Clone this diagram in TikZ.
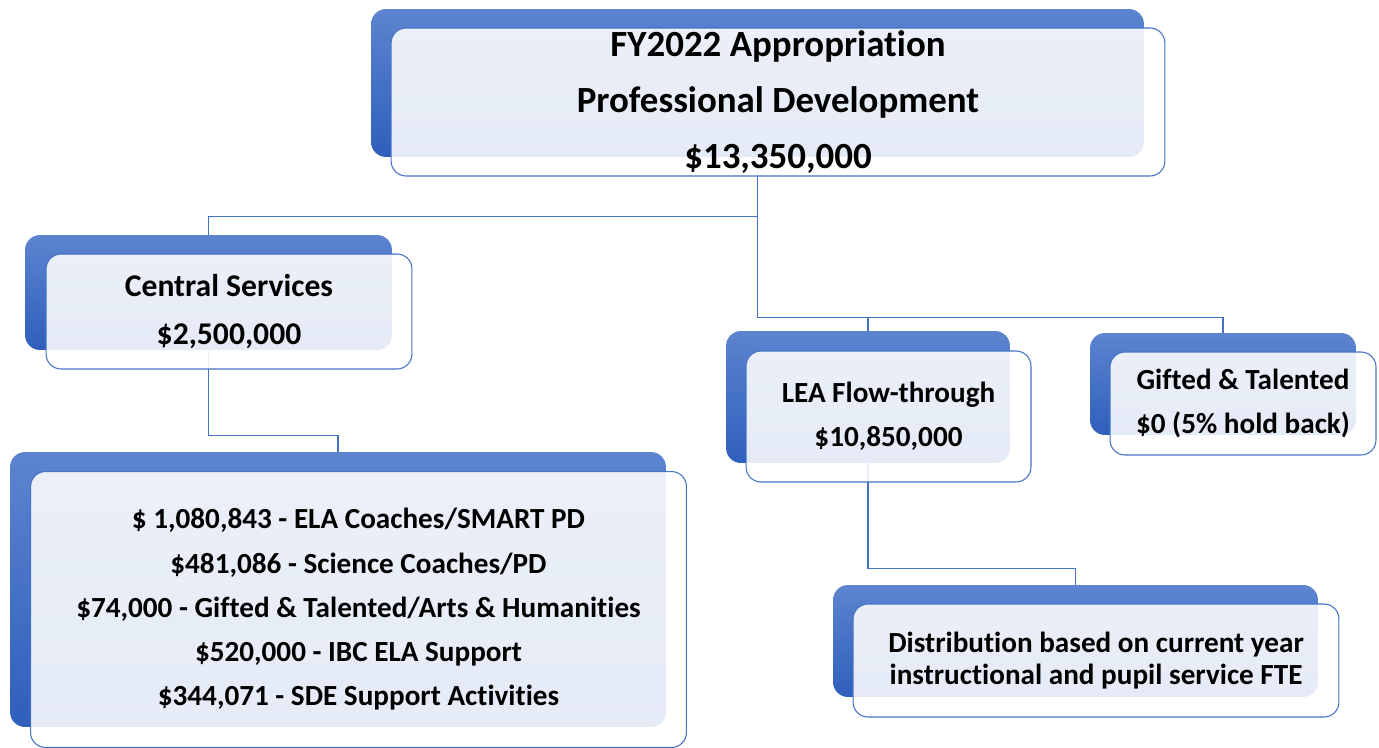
\documentclass[tikz,border=0pt]{standalone}
\usepackage{fontspec}
\setmainfont{Carlito}[Ligatures=NoCommon]
\usetikzlibrary{backgrounds}
\definecolor{bleuhaut}{HTML}{5C84CF}
\definecolor{bleubas}{HTML}{2F5FBC}
\definecolor{bleutrait}{HTML}{4472C4}
\tikzset{
  fond/.style={rectangle, rounded corners=0.3cm, top color=bleuhaut, bottom color=bleubas, draw=none, inner sep=0pt},
  devant/.style={rectangle, rounded corners=0.3cm, draw=bleutrait, line width=0.6pt, fill=white, fill opacity=0.88, text opacity=1, inner sep=0pt, align=center},
  lien/.style={draw=bleutrait, line width=0.6pt}
}
\begin{document}
\begin{tikzpicture}[x=0.02cm, y=-0.02cm]
    \useasboundingbox (0,0) rectangle (1379,747);
    %boites du fond
    \node[fond, minimum width=15.46cm, minimum height=2.96cm] (top) at (757.5,83) {};
    \node[fond, minimum width=7.34cm, minimum height=2.3cm] (central) at (208.5,292.5) {};
    \node[fond, minimum width=13.12cm, minimum height=5.5cm] (bas) at (338,589.5) {};
    \node[fond, minimum width=5.68cm, minimum height=2.64cm] (lea) at (868,397) {};
    \node[fond, minimum width=5.32cm, minimum height=2.04cm] (gifted) at (1223,384) {};
    \node[fond, minimum width=9.7cm, minimum height=2.24cm] (distrib) at (1075.5,641) {};
    %liens
    \begin{scope}[on background layer]
      \draw[lien] (top.center) -- (top.south) -- ++(0,59) -| (central.center);
      \draw[lien] (top.center) -- (top.south) -- ++(0,160) -| (lea.center);
      \draw[lien] (top.south) ++(0,160) -| (gifted.center);
      \draw[lien] (central.center) -- (central.south) -- ++(0,85) -| (bas.center);
      \draw[lien] (lea.center) -- (lea.south) -- ++(0,105) -| (distrib.center);
    \end{scope}
    %boites de devant
    \node[devant, minimum width=15.48cm, minimum height=2.96cm, font=\bfseries\fontsize{21}{32}\selectfont] (topT) at ([shift={(20.5,19)}]top.center)
      {FY2022 Appropriation\\Professional Development\\\$13,350,000};
    \node[devant, minimum width=7.32cm, minimum height=2.3cm, font=\bfseries\fontsize{18}{27}\selectfont] (centralT) at ([shift={(20.5,19)}]central.center)
      {Central Services\\\$2,500,000};
    \node[devant, minimum width=13.12cm, minimum height=5.52cm, font=\bfseries\fontsize{16.6}{25.2}\selectfont] (basT) at ([shift={(20.5,20)}]bas.center)
      {\$ 1,080,843 - ELA Coaches/SMART PD\\\$481,086 - Science Coaches/PD\\\$74,000 - Gifted \& Talented/Arts \& Humanities\\\$520,000 - IBC ELA Support\\\$344,071 - SDE Support Activities};
    \node[devant, minimum width=5.7cm, minimum height=2.62cm, font=\bfseries\fontsize{16.6}{25}\selectfont] (leaT) at ([shift={(20.5,19.5)}]lea.center)
      {LEA Flow-through\\\$10,850,000};
    \node[devant, minimum width=5.32cm, minimum height=2.06cm, font=\bfseries\fontsize{16.6}{25}\selectfont] (giftedT) at ([shift={(20,19.5)}]gifted.center)
      {Gifted \& Talented\\\$0 (5\% hold back)};
    \node[devant, minimum width=9.72cm, minimum height=2.26cm, font=\bfseries\fontsize{16.6}{18.2}\selectfont] (distribT) at ([shift={(20.5,19.5)}]distrib.center)
      {Distribution based on current year\\instructional and pupil service FTE};
  \end{tikzpicture}
\end{document}
